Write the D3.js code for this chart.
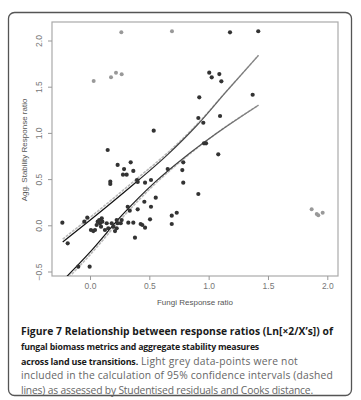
<!DOCTYPE html>
<html>
<head>
<meta charset="utf-8">
<script src="https://cdn.jsdelivr.net/npm/d3@7"></script>
<style>
  body { margin: 0; background: #fff; }
  svg { display: block; }
</style>
</head>
<body>
<script>
// points used in the fit (dark)
var usedX = [0.149, 0.233, 0.343, 0.287, 0.365, 0.278, 0.309, 0.171, 0.171, 0.396, 0.402, 0.464, 0.514, 0.537,
  0.655, 0.786, 0.778, 0.786, 0.458, 0.514, 0.554, 0.318, 0.335, 0.402, 0.379, 0.323, 0.365, 0.427, 0.441,
  0.464, 0.506, 0.689, 0.731, 0.689, -0.233, -0.188, -0.099, -0.003, -0.048, -0.023,
  0.008, 0.028, 0.042, 0.056, 0.065, 0.078, 0.084, 0.099, 0.104, 0.093, 0.126, 0.141, 0.154, 0.183, 0.196,
  0.211, 0.225, 0.233, 0.259, 0.267, 0.225,
  1.005, 1.090, 1.026, 1.107, 0.921, 1.371, 0.913, 0.955, 1.096, 0.961, 0.978, 1.081, 0.913, 1.180, 1.418];
var usedY = [0.815, 0.653, 0.682, 0.609, 0.588, 0.548, 0.548, 0.472, 0.447, 0.490, 0.469, 0.461, 0.490, 1.024,
  0.609, 0.682, 0.598, 0.461, 0.255, 0.201, 0.299, 0.201, 0.158, 0.173, -0.134, 0.028, 0.028, 0.014, 0.003,
  -0.026, 0.065, 0.104, 0.136, 0.014, 0.028, -0.195, -0.448, -0.448, 0.039, 0.082,
  -0.051, -0.062, -0.051, 0.003, 0.039, 0.057, 0.022, 0.076, 0.039, -0.015, -0.051, 0.022, -0.032, 0.022, -0.015,
  -0.062, 0.057, 0.022, 0.022, 0.057, -0.032,
  1.652, 1.637, 1.602, 1.558, 1.385, 1.413, 1.161, 1.110, 1.183, 0.887, 0.887, 0.768, 0.339, 2.089, 2.100];

// excluded points (light grey)
var outX = [0.031, 0.177, 0.219, 0.267, 0.264, 0.691, 1.868, 1.911, 1.924, 1.961];
var outY = [1.562, 1.602, 1.652, 1.634, 2.089, 2.100, 0.173, 0.122, 0.108, 0.136];

// confidence interval lines
var upperX = [-0.23, 0.13, 0.41, 0.65, 0.90, 1.15, 1.42];
var upperY = [-0.18, 0.19, 0.49, 0.76, 1.08, 1.45, 1.84];
var upperGreyY = [-0.15, 0.22, 0.52, 0.78, 1.09, 1.45, 1.84];
var lowerX = [-0.20, 0.0, 0.27, 0.55, 0.80, 1.05, 1.42];
var lowerY = [-0.56, -0.29, 0.11, 0.47, 0.74, 0.98, 1.30];
var lowerGreyY = [-0.59, -0.32, 0.08, 0.45, 0.73, 0.98, 1.30];

var ticks = [0, 0.5, 1, 1.5, 2];

var captionBold1 = "Figure 7 Relationship between response ratios (Ln[\u00d72/X\u2019s]) of";
var captionBold2 = "fungal biomass metrics and aggregate stability measures";
var captionBold3 = "across land use transitions.";
var captionRest3 = "Light grey data-points were not";
var captionRest4 = "included in the calculation of 95% confidence intervals (dashed";
var captionRest5 = "lines) as assessed by Studentised residuals and Cooks distance.";

var width = 361, height = 400;
var plotL = 52, plotR = 338, plotT = 22, plotB = 276;

var svg = d3.select("body").append("svg")
    .attr("width", width)
    .attr("height", height)
    .style("font-family", "'Liberation Sans', Arial, sans-serif");

svg.append("rect").attr("width", width).attr("height", height).attr("fill", "#fff");

// outer panel
svg.append("rect")
    .attr("x", 8.5).attr("y", 12.5)
    .attr("width", 343).attr("height", 383)
    .attr("rx", 6)
    .attr("fill", "none")
    .attr("stroke", "#555")
    .attr("stroke-width", 1.3);

var x = d3.scaleLinear().domain([0, 2]).range([90, 327.3]);
var y = d3.scaleLinear().domain([0, 2]).range([225.3, 40.5]);

var defs = svg.append("defs");
defs.append("clipPath").attr("id", "clip")
  .append("rect")
    .attr("x", plotL).attr("y", plotT)
    .attr("width", plotR - plotL).attr("height", plotB - plotT);

var grad = defs.append("linearGradient")
    .attr("id", "fade")
    .attr("gradientUnits", "userSpaceOnUse")
    .attr("x1", x(0.3)).attr("x2", x(1.42))
    .attr("y1", 0).attr("y2", 0);
grad.append("stop").attr("offset", "0%").attr("stop-color", "#111");
grad.append("stop").attr("offset", "100%").attr("stop-color", "#888");

// frame
svg.append("rect")
    .attr("x", plotL).attr("y", plotT)
    .attr("width", plotR - plotL).attr("height", plotB - plotT)
    .attr("fill", "none")
    .attr("stroke", "#aaa")
    .attr("stroke-width", 1.2);

var xAxis = svg.append("g")
    .attr("transform", "translate(0," + plotB + ")")
    .call(d3.axisBottom(x).tickValues(ticks).tickFormat(d3.format(".1f")).tickSize(4).tickPadding(3));
var yAxis = svg.append("g")
    .attr("transform", "translate(" + plotL + ",0)")
    .call(d3.axisLeft(y).tickValues([-0.5].concat(ticks)).tickFormat(d3.format(".1f")).tickSize(4));

[xAxis, yAxis].forEach(function(a) {
  a.select(".domain").remove();
  a.selectAll("line").attr("stroke", "#999");
  a.selectAll("text")
    .attr("fill", "#777")
    .style("font-size", "8.5px")
    .style("font-family", "'Liberation Sans', Arial, sans-serif");
});
yAxis.selectAll("text")
    .attr("x", null).attr("dy", null)
    .attr("text-anchor", "middle")
    .attr("transform", "translate(-10,0) rotate(-90)");

var line = d3.line()
    .x(function(d) { return x(d[0]); })
    .y(function(d) { return y(d[1]); })
    .curve(d3.curveMonotoneX);

var lines = svg.append("g").attr("clip-path", "url(#clip)");
lines.append("path")
    .attr("d", line(d3.zip(upperX, upperGreyY)))
    .attr("fill", "none").attr("stroke", "#bbb").attr("stroke-width", 1.6)
    .attr("stroke-dasharray", "3,1");
lines.append("path")
    .attr("d", line(d3.zip(lowerX, lowerGreyY)))
    .attr("fill", "none").attr("stroke", "#bbb").attr("stroke-width", 1.6)
    .attr("stroke-dasharray", "3,1");
lines.append("path")
    .attr("d", line(d3.zip(upperX, upperY)))
    .attr("fill", "none").attr("stroke", "url(#fade)").attr("stroke-width", 1.2);
lines.append("path")
    .attr("d", line(d3.zip(lowerX, lowerY)))
    .attr("fill", "none").attr("stroke", "url(#fade)").attr("stroke-width", 1.2);

svg.append("g").selectAll("circle")
    .data(d3.zip(outX, outY))
    .enter().append("circle")
      .attr("cx", function(d) { return x(d[0]); })
      .attr("cy", function(d) { return y(d[1]); })
      .attr("r", 2)
      .attr("fill", "#999");

svg.append("g").selectAll("circle")
    .data(d3.zip(usedX, usedY))
    .enter().append("circle")
      .attr("cx", function(d) { return x(d[0]); })
      .attr("cy", function(d) { return y(d[1]); })
      .attr("r", 2.1)
      .attr("fill", "#333");

// axis titles
svg.append("text")
    .attr("transform", "translate(27,150) rotate(-90)")
    .attr("text-anchor", "middle")
    .attr("fill", "#555")
    .style("font-size", "8px")
    .text("Agg. Stability Response ratio");
svg.append("text")
    .attr("x", 195).attr("y", 305)
    .attr("text-anchor", "middle")
    .attr("fill", "#555")
    .style("font-size", "8px")
    .text("Fungi Response ratio");

// caption: fit each line to its width (shrink font a little, then letter-spacing)
var baseSize = 10.3;
var cap = svg.append("g")
    .style("font-family", "'Open Sans', 'Noto Sans', sans-serif");
function capLine(xx, yy, len, txt, bold) {
  var t = cap.append("text").attr("x", xx).attr("y", yy)
    .attr("font-weight", bold ? "bold" : null)
    .attr("fill", bold ? "#1a1a1a" : "#666")
    .style("font-size", baseSize + "px")
    .text(txt);
  var natural = t.node().getComputedTextLength();
  var n = txt.length;
  if ((len - natural) / n < -0.2) {
    t.style("font-size", (baseSize * (len + 0.2 * n) / natural).toFixed(2) + "px");
    natural = t.node().getComputedTextLength();
  }
  t.attr("letter-spacing", ((len - natural) / n).toFixed(3) + "px");
  return t;
}
capLine(21, 334.5, 312, captionBold1, true);
capLine(21, 349.5, 238, captionBold2, true);
capLine(21, 364.5, 117, captionBold3, true);
capLine(141, 364.5, 157, captionRest3, false);
capLine(21, 379, 312, captionRest4, false);
capLine(21, 393.5, 292, captionRest5, false);
</script>
</body>
</html>
